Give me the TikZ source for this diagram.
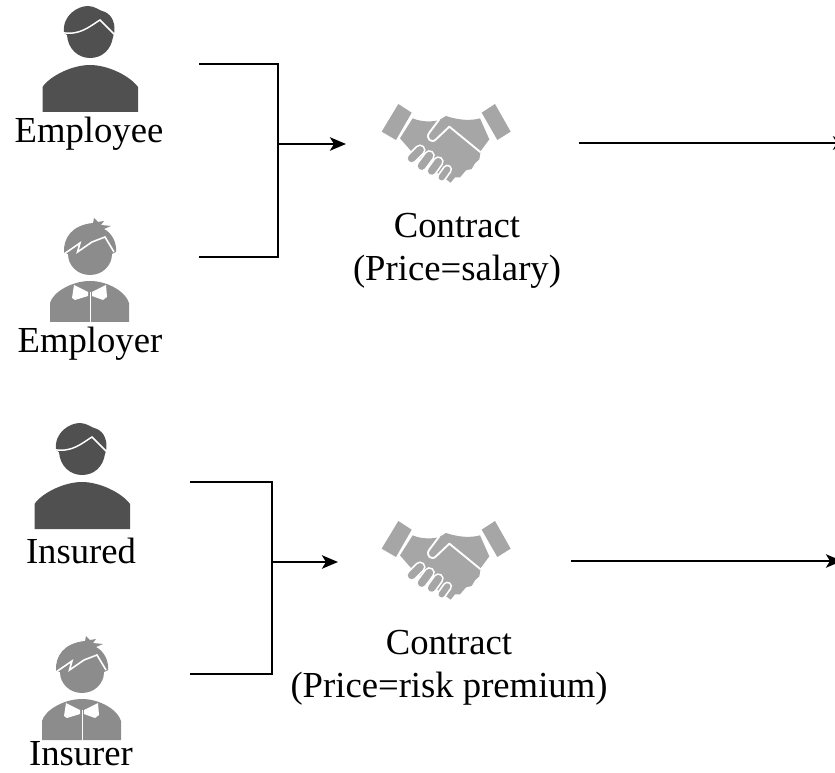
\documentclass[tikz,border=0pt]{standalone}
\usepackage{fontspec}
\setmainfont{Liberation Serif}
\usetikzlibrary{arrows.meta}
\definecolor{dark}{HTML}{505050}
\definecolor{mid}{HTML}{8C8C8C}
\definecolor{light}{HTML}{A6A6A6}
\tikzset{
  lbl/.style={font=\fontsize{27.5}{30}\selectfont,text=black,inner sep=0pt},
  link/.style={draw=black,line width=1.9pt},
  flow/.style={link,-{Stealth[length=12pt,width=10pt,inset=3pt]}},
  pics/employeeicon/.style={code={
    \fill[dark] (64,33) .. controls (62,15) and (78,6) .. (88,6) .. controls (95,6) and (100,11) .. (105,12)
       .. controls (112,15) and (116,24) .. (114,34) -- (113,37) .. controls (111,50) and (102,58) .. (90,58)
       .. controls (78,58) and (68,49) .. (67,35) -- cycle;
    \draw[white,line width=1.1pt] (62,32.5) .. controls (80,36) and (90,26) .. (100,20) -- (115,35);
    \fill[dark] (42.5,112) -- (42.5,87) .. controls (50,76) and (72,65) .. (90,65) .. controls (108,65) and (130,76) .. (138,87)
       -- (138,112) -- cycle;
  }},
  pics/employericon/.style={code={
    \fill[mid] (64,253) .. controls (63,238) and (72,225) .. (93,223) -- (94,218) -- (98,222) -- (104,221) -- (101,225) -- (111,226) -- (104,229)
       .. controls (112,233) and (117,243) .. (116,252) -- (112,254) .. controls (112,266) and (102,275) .. (90,275)
       .. controls (78,275) and (68,266) .. (68,254) -- cycle;
    \draw[white,line width=1.2pt] (64,254) -- (80,243) -- (77.5,252) -- (92,242) -- (105,237) -- (114,252);
    \fill[mid] (50,322) -- (50,303) .. controls (53,292) and (72,281) .. (90,281) .. controls (108,281) and (126,292) .. (129,303) -- (129,322) -- cycle;
    \fill[white] (74,285) -- (88,292) -- (88,296) -- (75,300) -- (72,298) -- cycle;
    \fill[white] (106,285) -- (92,292) -- (92,296) -- (103,300) -- (107,297) -- cycle;
    \fill[white] (89.5,292) rectangle (91,322);
  }},
  pics/shakeicon/.style={code={
    \begin{scope}[shift={(360,90)},scale=1/3]
    \fill[light] (115,42) -- (155,68) -- (108,150) -- (65,125) -- cycle;
    \fill[light] (405,42) -- (365,68) -- (412,150) -- (452,125) -- cycle;
    \fill[light] (158,85) .. controls (180,95) and (215,97) .. (238,90) -- (258,78) .. controls (300,92) and (335,92) .. (360,85)
       -- (388,148) -- (362,183) -- (358,208) -- (345,220) -- (335,237) -- (318,241) -- (300,262) -- (285,262) -- (272,278) -- (240,255)
       -- (155,185) -- (120,145) -- cycle;
    \draw[white,line width=1.4pt,line join=round] (362,187) -- (268,110) -- (228,148) .. controls (215,162) and (195,145) .. (208,128) -- (238,88);
    \foreach \ax/\ay/\bx/\by/\w in {262/238/245/262/4.6, 235/215/215/243/5.6, 208/197/185/228/5.8, 180/180/155/205/5.8}{
      \draw[white,line width=\w pt+2.6pt,line cap=round] (\ax,\ay) -- (\bx,\by);
      \draw[light,line width=\w pt,line cap=round] (\ax,\ay) -- (\bx,\by);
    }
    \end{scope}
  }}
}
\begin{document}
\begin{tikzpicture}[x=0.75pt,y=-0.75pt]
\useasboundingbox (0,0) rectangle (835,773);
% top group
\pic {employeeicon};
\pic {employericon};
\pic {shakeicon};
\node[lbl] (employee) at (89,134) {Employee};
\node[lbl] (employer) at (90,344) {Employer};
\node[lbl] (contractA) at (457,226) {Contract};
\node[lbl] (priceA) at (457,272) {(Price=salary)};
\coordinate (aTop) at (199,64);
\coordinate (aTopC) at (278,64);
\coordinate (aBot) at (199,257);
\coordinate (aBotC) at (278,257);
\coordinate (aMid) at (278,144);
\coordinate (aShake) at (346,144);
\coordinate (aOut) at (579,143);
\coordinate (aEnd) at (849,143);
\draw[link] (aTop) -- (aTopC) -- (aBotC) -- (aBot);
\draw[flow] (aMid) -- (aShake);
\draw[flow] (aOut) -- (aEnd);
% bottom group
\pic[shift={(-8,417)}] {employeeicon};
\pic[shift={(-8,418)}] {employericon};
\pic[shift={(0,417)}] {shakeicon};
\node[lbl] (insured) at (81,551) {Insured};
\node[lbl] (insurer) at (81,754) {Insurer};
\node[lbl] (contractB) at (449,643) {Contract};
\node[lbl] (priceB) at (449,689) {(Price=risk premium)};
\coordinate (bTop) at (190,482);
\coordinate (bTopC) at (272,482);
\coordinate (bBot) at (190,674);
\coordinate (bBotC) at (272,674);
\coordinate (bMid) at (272,562);
\coordinate (bShake) at (338,562);
\coordinate (bOut) at (571,561);
\coordinate (bEnd) at (842,561);
\draw[link] (bTop) -- (bTopC) -- (bBotC) -- (bBot);
\draw[flow] (bMid) -- (bShake);
\draw[flow] (bOut) -- (bEnd);
\end{tikzpicture}
\end{document}
